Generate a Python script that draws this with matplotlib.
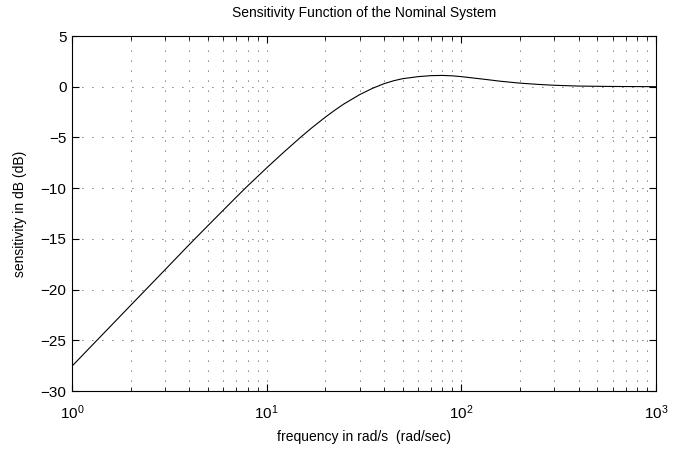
import numpy as np
import matplotlib.pyplot as plt
from matplotlib.ticker import LogLocator, NullFormatter, MultipleLocator

plt.rcParams['font.family'] = ['Liberation Sans', 'DejaVu Sans']
plt.rcParams['mathtext.fontset'] = 'custom'
plt.rcParams['mathtext.rm'] = 'Liberation Sans'

# frequencies (rad/s) and sensitivity magnitude (dB)
freq = [1, 1.5, 2, 3, 4, 5, 6, 7, 8, 10, 12, 15, 17, 20, 22.5, 25, 30, 35, 40,
        45, 50, 60, 70, 80, 90, 100, 130, 160, 200, 250, 300, 400, 600, 1000]
sens_db = [-27.55, -24.05, -21.56, -18.06, -15.57, -13.68, -12.15, -10.86, -9.76,
           -8.0, -6.6, -4.95, -4.07, -3.0, -2.28, -1.68, -0.78, -0.15, 0.3,
           0.6, 0.8, 1.0, 1.1, 1.12, 1.08, 1.0, 0.75, 0.54, 0.36, 0.23,
           0.15, 0.07, 0.03, 0.01]

fig = plt.figure(figsize=(6.92, 4.51), dpi=100)
ax = fig.add_axes([0.104, 0.133, 0.844, 0.787])
ax.semilogx(freq, sens_db, 'k-', linewidth=0.8)

ax.set_xlim(1, 1000)
ax.set_ylim(-30, 5)
ax.yaxis.set_major_locator(MultipleLocator(5))
ax.xaxis.set_major_locator(LogLocator(base=10, numticks=10))
ax.xaxis.set_minor_locator(LogLocator(base=10, subs=np.arange(2, 10), numticks=10))
ax.xaxis.set_minor_formatter(NullFormatter())

# sparse MATLAB style dotted grid
dots = (0, (1, 11))
ax.grid(which='major', axis='both', color='k', linestyle=dots, linewidth=0.6)
ax.grid(which='minor', axis='x', color='k', linestyle=dots, linewidth=0.6)

ax.tick_params(which='both', direction='in', top=True, right=True, labelsize=11)
ax.tick_params(which='major', length=5)
ax.tick_params(which='minor', length=3)
ax.tick_params(axis='x', which='major', pad=9)
ax.tick_params(axis='y', which='major', pad=4)
for s in ax.spines.values():
    s.set_linewidth(0.8)

ax.set_title('Sensitivity Function of the Nominal System', fontsize=10, pad=14)
ax.set_xlabel('frequency in rad/s  (rad/sec)', fontsize=10, labelpad=6)
ax.set_ylabel('sensitivity in dB (dB)', fontsize=10, labelpad=10)

fig.savefig('out.png', dpi=100)
